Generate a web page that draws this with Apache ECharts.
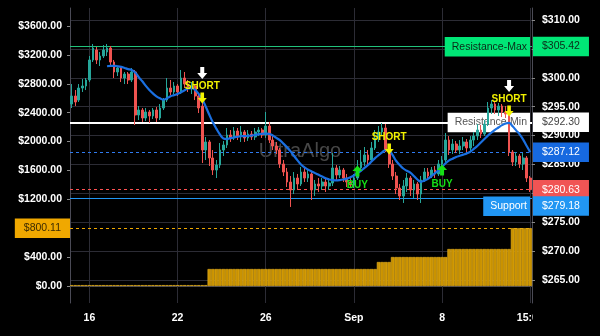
<!DOCTYPE html>
<html><head><meta charset="utf-8">
<script src="https://cdn.jsdelivr.net/npm/echarts@6/dist/echarts.min.js"></script>
<style>html,body{margin:0;padding:0;background:#000;}#c{width:600px;height:336px;}</style>
</head><body><div id="c"></div>
<script>
// ---- data ----
// candles: [open, close, low, high]
const candles = [
[295.46,296.85,294.77,298.92],[296.85,295.81,295.12,297.88],[296.15,298.23,295.81,298.92],[298.23,298.58,297.54,299.79],[298.58,299.62,297.88,299.96],
[299.62,303.08,299.27,303.77],[303.08,305.15,302.73,305.85],[304.81,303.08,302.38,305.33],[303.08,303.77,302.04,304.46],[303.77,304.81,303.42,305.67],
[304.46,305.15,303.77,305.85],[305.15,302.73,302.04,305.50],[302.73,301.00,299.96,303.08],[301.00,301.69,300.31,302.04],[301.69,299.96,299.27,302.04],
[299.96,300.65,298.92,301.00],[300.65,299.62,298.92,301.00],[299.62,301.00,299.27,301.69],[301.00,293.56,291.83,301.35],[293.56,294.42,292.69,295.12],
[294.42,293.04,292.35,294.77],[293.04,294.08,292.52,294.77],[294.08,293.39,292.17,294.42],[293.39,294.42,292.87,294.77],[294.42,293.04,292.35,294.94],
[293.04,294.77,292.69,295.46],[294.77,296.15,294.42,296.50],[296.15,298.23,295.81,299.96],[298.23,297.54,297.02,299.62],[297.54,298.58,297.19,299.27],
[298.58,297.54,296.85,298.92],[297.54,299.96,297.19,301.35],[299.96,298.92,298.23,301.00],[298.92,298.23,297.54,299.62],[298.23,298.58,297.19,299.27],
[298.58,296.85,296.15,298.92],[296.85,294.77,293.90,297.19],[295.12,287.50,285.25,295.64],[287.50,288.89,285.77,289.75],[288.89,286.12,284.73,289.23],
[286.12,284.04,283.17,287.50],[284.04,284.90,282.65,285.77],[284.90,287.50,284.39,288.71],[287.50,288.37,286.46,289.06],[288.37,290.10,287.85,291.31],
[290.10,289.58,288.89,290.96],[289.58,290.79,289.23,291.48],[290.79,289.92,289.23,291.31],[289.92,290.62,288.89,291.65],[290.62,289.58,288.89,290.96],
[289.58,290.27,289.06,290.96],[290.27,289.75,289.23,290.79],[289.75,290.62,289.23,291.31],[290.62,290.96,289.92,291.48],[290.96,290.10,289.58,291.31],
[290.10,291.65,289.58,294.08],[291.65,289.23,288.71,292.35],[289.23,288.19,287.50,289.92],[288.19,287.50,286.81,288.89],[287.50,285.08,284.39,287.85],
[285.08,283.69,283.00,285.77],[283.69,281.96,281.10,284.39],[281.96,280.58,277.64,283.00],[280.58,282.65,279.88,283.69],[282.65,281.62,280.58,283.35],
[281.62,283.69,281.27,284.56],[283.69,282.65,281.96,284.39],[282.65,283.35,281.96,284.21],[283.35,280.58,278.85,283.69],[280.58,281.62,279.54,282.31],
[281.62,281.27,280.23,282.65],[281.27,281.96,280.58,282.65],[281.96,281.27,280.23,282.48],[281.27,281.79,280.58,282.65],[281.79,284.39,281.27,286.98],
[284.39,283.17,282.31,284.90],[283.17,284.04,282.65,284.73],[284.04,282.65,281.96,284.39],[282.65,281.96,281.10,283.35],[281.96,281.44,280.92,282.65],
[281.44,282.65,280.92,283.35],[282.65,284.39,282.31,285.77],[284.39,285.42,284.04,287.50],[285.42,286.64,284.73,288.02],[286.64,285.77,284.90,287.50],
[285.77,287.85,285.42,288.89],[287.85,289.58,287.50,290.96],[289.58,290.62,288.89,291.65],[290.62,291.31,289.92,292.17],[291.31,287.50,287.15,292.00],
[287.50,285.08,284.39,287.67],[285.08,283.00,282.31,285.77],[283.00,280.92,279.88,283.69],[280.92,279.54,278.85,281.62],[279.54,281.27,278.33,282.31],
[281.27,282.65,280.23,283.52],[282.65,280.58,279.54,283.00],[280.58,281.62,279.19,282.31],[281.62,279.88,278.85,281.96],[279.88,282.31,278.33,283.00],
[282.31,283.69,281.96,284.39],[283.69,283.00,282.31,284.39],[283.00,284.04,282.65,284.56],[284.04,283.35,282.65,284.73],[283.35,285.08,283.00,285.77],
[285.08,285.77,284.04,286.46],[285.77,289.23,285.42,290.44],[289.23,287.50,286.64,289.92],[287.50,288.54,286.81,289.40],[288.54,287.50,286.98,289.06],
[287.50,288.19,286.81,289.23],[288.19,288.89,287.50,289.75],[288.89,287.85,287.15,289.40],[287.85,289.23,287.33,289.92],[289.23,289.92,288.19,290.62],
[289.92,290.96,289.23,292.00],[290.96,290.27,289.58,291.83],[290.27,292.00,289.92,292.69],[292.00,294.77,291.65,295.81],[294.77,295.46,293.73,296.15],
[295.46,294.42,293.73,295.81],[294.42,295.12,293.39,295.64],[295.12,294.08,293.21,295.46],[294.08,293.73,293.04,295.12],[293.73,287.15,286.46,293.90],
[287.15,285.42,284.73,287.50],[285.42,286.46,284.73,287.15],[286.46,285.08,284.39,286.81],[285.08,286.12,284.04,286.98],[286.12,282.65,281.96,286.46],
[282.65,280.63,280.23,283.00]
];
const maValues = [
null,null,null,null,null,null,null,null,null,null,
302.0,302.05,302.05,302.0,301.9,301.7,301.5,301.35,300.9,300.1,
299.4,298.6,297.9,297.3,296.8,296.45,296.2,296.45,296.8,297.0,
297.2,297.5,297.85,298.15,298.2,297.9,297.2,296.3,295.0,293.6,
292.3,291.2,290.2,289.5,289.4,289.55,289.7,289.8,289.9,289.9,
289.95,290.0,290.1,290.25,290.3,290.35,290.3,290.0,289.6,289.2,
288.6,288.0,287.3,286.5,285.7,285.0,284.5,284.1,283.8,283.5,
283.2,282.9,282.6,282.4,282.3,282.25,282.3,282.4,282.55,282.8,
283.1,283.5,283.9,284.4,284.9,285.5,286.1,286.6,287.1,287.5,
287.4,286.6,285.6,284.9,284.3,283.9,283.6,283.0,282.4,282.0,
282.2,282.5,283.0,283.5,284.0,284.6,285.2,285.7,286.0,286.3,
286.5,286.7,286.9,287.2,287.7,288.2,288.8,289.4,290.0,290.5,
291.0,291.4,291.8,292.1,292.2,291.6,290.9,290.2,289.3,288.2,
287.12
];
const equityBars = [
12,12,12,12,12,12,12,12,12,12,
12,12,12,12,12,12,12,12,12,12,
12,12,12,12,12,12,12,12,12,12,
12,12,12,12,12,12,12,12,12,235,
235,235,235,235,235,235,235,235,235,235,
235,235,235,235,235,235,235,235,235,235,
235,235,235,235,235,235,235,235,235,235,
235,235,235,235,235,235,235,235,235,235,
235,235,235,235,235,235,235,332,332,332,
332,401,401,401,401,401,401,401,401,401,
401,401,401,401,401,401,401,512,512,512,
512,512,512,512,512,512,512,512,512,512,
512,512,512,512,512,800.11,800.11,800.11,800.11,800.11,
800.11
];
const categories = candles.map((c, i) => String(i));
const tickIdx = [5, 30, 55, 80, 105, 130];
const tickText = ['16', '22', '26', 'Sep', '8', '15:00'];
const priceTicks = [265, 270, 275, 280, 285, 290, 295, 300, 305, 310];
const priceLabels = [265, 270, 275, 285, 290, 295, 300, 310];
const equityTicks = [0, 400, 800, 1200, 1600, 2000, 2400, 2800, 3200, 3600];
const equityLabels = [0, 400, 1200, 1600, 2000, 2400, 2800, 3200, 3600];
const resistanceMax = 305.42, resistanceMin = 292.30, maLast = 287.12, lastPrice = 280.63, support = 279.18, equityLevel = 800.11;
const shortIdx = [37, 90, 124], shortPrice = [296.50, 287.67, 294.25], shortConfirm = [true, false, true];
const buyIdx = [81, 105], buyPrice = [283.87, 284.04];

// ---- styles ----
const FONT = "'Liberation Sans', Arial, sans-serif";
const GRID = '#2c2c35';
const AXIS = '#4a4a55';
const fmt = v => '$' + v.toFixed(2);
const downArrow = 'path://M3,0L7,0L7,6L10,6L5,12L0,6L3,6Z';
const upArrow = 'path://M5,0L10,6L7,6L7,12L3,12L3,6L0,6Z';

function priceTag(value, line, bg, fg, dy) {
  return { yAxis: value, lineStyle: line,
    label: { show: true, position: 'end', distance: 1, formatter: fmt(value), backgroundColor: bg, color: fg,
      padding: [3, 9, 3, 9], fontSize: 10.5, lineHeight: 13.5, fontFamily: FONT, offset: [0, dy || 0] } };
}
function nameTag(value, name, bg, fg, dy) {
  return { yAxis: value, lineStyle: { color: 'rgba(0,0,0,0)', width: 0.01 },
    label: { show: true, position: 'insideEndTop', distance: [2, -10], formatter: name, backgroundColor: bg, color: fg,
      padding: [3, 3, 3, 7], fontSize: 10.5, lineHeight: 13.5, fontFamily: FONT, offset: [0, dy || 0] } };
}

const markPoints = [];
shortIdx.forEach((idx, k) => {
  markPoints.push({ coord: [categories[idx], shortPrice[k]], symbol: downArrow, symbolSize: [9, 11],
    itemStyle: { color: '#f2f200' },
    label: { show: true, position: 'top', distance: 1, formatter: 'SHORT', color: '#f2f200', fontSize: 10, fontWeight: 'bold', fontFamily: FONT } });
  if (shortConfirm[k]) {
    markPoints.push({ coord: [categories[idx], shortPrice[k]], symbol: downArrow, symbolSize: [10, 12], symbolOffset: [0, -25],
      itemStyle: { color: '#ffffff' }, label: { show: false } });
  }
});
buyIdx.forEach((idx, k) => {
  markPoints.push({ coord: [categories[idx], buyPrice[k]], symbol: upArrow, symbolSize: [10, 11],
    itemStyle: { color: '#16e016' },
    label: { show: true, position: 'bottom', distance: 4, formatter: 'BUY', color: '#16e016', fontSize: 10, fontWeight: 'bold', fontFamily: FONT } });
});

const chart = echarts.init(document.getElementById('c'), null, { renderer: 'canvas' });
chart.setOption({
  backgroundColor: '#000',
  animation: false,
  grid: { left: 70, right: 68, top: 8, bottom: 33 },
  graphic: [
    { type: 'text', left: 'center', top: 141, z: 0, silent: true,
      style: { text: 'UltraAlgo', fontSize: 20, fontFamily: FONT, fill: 'rgba(130,130,130,0.55)' } },
    { type: 'rect', z: 100, silent: true, shape: { x: 533, y: 305, width: 67, height: 31 }, style: { fill: '#000' } }
  ],
  xAxis: {
    type: 'category', data: categories, boundaryGap: true,
    axisLine: { lineStyle: { color: AXIS } },
    axisTick: { show: true, alignWithLabel: true, length: 4, interval: (i) => tickIdx.includes(i), lineStyle: { color: AXIS } },
    axisLabel: { interval: (i) => tickIdx.includes(i), formatter: (v, i) => tickText[tickIdx.indexOf(Number(v))],
      color: '#fff', fontSize: 10.5, fontWeight: 'bold', fontFamily: FONT, margin: 10 },
    splitLine: { show: false }
  },
  yAxis: [
    { type: 'value', position: 'right', min: 261.02, max: 312.08, scale: true,
      axisLine: { show: true, lineStyle: { color: AXIS } },
      axisTick: { show: true, length: 3, customValues: priceTicks, lineStyle: { color: '#888' } },
      axisLabel: { customValues: priceLabels, formatter: v => fmt(v), color: '#fff', fontSize: 10.5, fontWeight: 'bold', fontFamily: FONT, margin: 10 },
      splitLine: { show: true, lineStyle: { color: GRID, width: 1 } }
    },
    { type: 'value', position: 'left', min: -235.4, max: 3849.2,
      axisLine: { show: true, lineStyle: { color: AXIS } },
      axisTick: { show: true, length: 3, customValues: equityTicks, lineStyle: { color: '#888' } },
      axisLabel: { customValues: equityLabels, formatter: v => fmt(v), color: '#fff', fontSize: 10.5, fontWeight: 'bold', fontFamily: FONT, margin: 8 },
      splitLine: { show: false }
    }
  ],
  series: [
    { type: 'bar', yAxisIndex: 1, data: equityBars, barCategoryGap: '0%', z: 2,
      itemStyle: { color: '#c99200', borderColor: '#e9b21e', borderWidth: 0.6 },
      markLine: { symbol: ['none', 'none'], silent: true, animation: false, z: 1,
        data: [
          ...tickIdx.map(i => ({ xAxis: categories[i], lineStyle: { color: GRID, type: 'solid', width: 1 }, label: { show: false } })),
          { yAxis: equityLevel, lineStyle: { color: '#f0a800', type: [3, 3], width: 1 },
            label: { show: true, position: 'start', distance: 0, formatter: fmt(equityLevel), backgroundColor: '#f0a800', color: '#3b2b00',
              padding: [3, 9, 3, 9], fontSize: 10.5, lineHeight: 13.5, fontFamily: FONT } }
        ] }
    },
    { type: 'candlestick', yAxisIndex: 0, data: candles, barWidth: 2.2, z: 3,
      itemStyle: { color: '#26a69a', color0: '#ef5350', borderColor: '#26a69a', borderColor0: '#ef5350', borderWidth: 1 },
      markLine: { symbol: ['none', 'none'], silent: true, animation: false, z: 2,
        data: [
          priceTag(resistanceMax, { color: '#22c27c', type: 'solid', width: 1 }, '#00e676', '#0b2a18'),
          nameTag(resistanceMax, 'Resistance-Max', '#00e676', '#0b2a18'),
          priceTag(resistanceMin, { color: '#ffffff', type: 'solid', width: 2 }, '#ffffff', '#444'),
          nameTag(resistanceMin, 'Resistance-Min', '#ffffff', '#555'),
          priceTag(maLast, { color: '#2f7bf0', type: [3, 3], width: 1 }, '#1669e0', '#fff'),
          priceTag(lastPrice, { color: '#ff5252', type: [3, 3], width: 1 }, '#f05454', '#fff'),
          priceTag(support, { color: '#2196f3', type: 'solid', width: 1 }, '#2196f3', '#fff', 8),
          nameTag(support, 'Support', '#2196f3', '#fff', 8)
        ] },
      markPoint: { silent: true, animation: false, z: 6, data: markPoints }
    },
    { type: 'line', yAxisIndex: 0, data: maValues, smooth: 0.4, showSymbol: false, symbol: 'none', z: 4,
      lineStyle: { color: '#1a6fe0', width: 2.2 } }
  ]
});
</script>
</body></html>
